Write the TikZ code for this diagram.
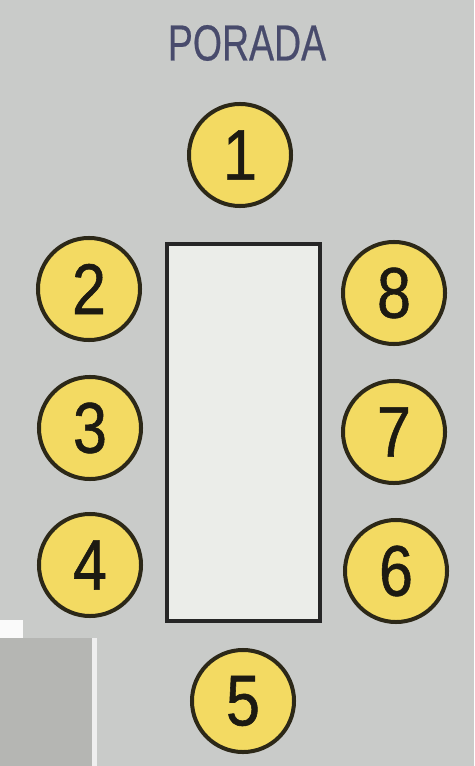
\documentclass[tikz,border=0pt]{standalone}
\usepackage{fontspec}
\setmainfont{Liberation Sans}
\newfontfamily\numfont[FakeStretch=0.85,FakeBold=0.8]{Liberation Sans}
\newfontfamily\titlefont[FakeStretch=0.74,FakeBold=0.4]{Liberation Sans}
\usetikzlibrary{positioning}

\definecolor{tlo}{RGB}{201,203,201}
\definecolor{zolty}{RGB}{243,218,98}
\definecolor{obwod}{RGB}{44,40,24}
\definecolor{cyfra}{RGB}{28,26,18}
\definecolor{napis}{RGB}{72,75,108}
\definecolor{blat}{RGB}{235,237,233}
\definecolor{lata}{RGB}{181,182,179}

\begin{document}
\begin{tikzpicture}[x=0.025cm, y=-0.025cm,
    miejsce/.style={circle, draw=obwod, line width=0.1cm, fill=zolty,
      minimum size=2.55cm, inner sep=0pt, text=cyfra,
      font=\numfont\fontsize{51}{51}\selectfont},
    stol/.style={draw=black!85, line width=0.1cm, fill=blat,
      minimum width=3.825cm, minimum height=9.425cm, inner sep=0pt},
    tytul/.style={text=napis, inner sep=0pt,
      font=\titlefont\fontsize{36}{36}\selectfont}
  ]
    % tlo i skan
    \fill[tlo] (0,0) rectangle (474,766);
    \fill[white!90!tlo] (0,620) rectangle (23,638);
    \fill[white!70!tlo] (0,638) rectangle (97,766);
    \fill[lata] (0,638) rectangle (92,766);

    \node[tytul] (tytul) at (247,43) {PORADA};

    \node[stol] (stol) at (243.5,432.5) {};

    \node[miejsce] (m1) at (240,155) {1};
    \node[miejsce] (m2) at (89,289)  {2};
    \node[miejsce] (m3) at (90,428)  {3};
    \node[miejsce] (m4) at (90,565)  {4};
    \node[miejsce] (m5) at (243,701) {5};
    \node[miejsce] (m6) at (396,571) {6};
    \node[miejsce] (m7) at (394,432) {7};
    \node[miejsce] (m8) at (394,293) {8};
\end{tikzpicture}
\end{document}
